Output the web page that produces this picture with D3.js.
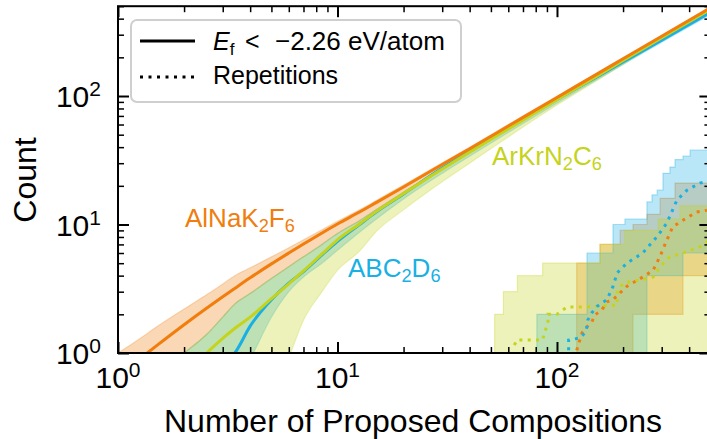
<!DOCTYPE html>
<html><head><meta charset="utf-8">
<script src="https://cdn.jsdelivr.net/npm/d3@7/dist/d3.min.js"></script>
<style>
body{margin:0;background:#fff}
svg{display:block}
text{font-family:"Liberation Sans",Arial,Helvetica,sans-serif}
</style>
</head><body>
<svg id="chart" width="707" height="439"></svg>
<script>
// ---------------- data ----------------
const seriesNames = ["AlNaK2F6", "ABC2D6", "ArKrN2C6"];
const gridX = [1, 1.36, 1.5, 2, 2.54, 3, 3.4, 4, 5, 6, 7, 8.5, 10, 12.6, 15, 20, 30, 40, 60, 100, 150, 200, 300, 500];

const orangeMean = [0.65, 1, 1.14, 1.66, 2.24, 2.74, 3.18, 3.85, 4.94, 6.0, 7.05, 8.6, 10.1, 12.5, 14.8, 19.6, 29.3, 38.9, 58.4, 97.5, 146, 195, 292, 486];
const orangeHi   = [1, 1.42, 1.6, 2.2, 2.85, 3.45, 4.0, 4.6, 5.6, 6.6, 7.6, 9.1, 10.6, 13.0, 15.4, 20.3, 30.2, 40, 60, 99.5, 149, 198, 297, 495];
const orangeLo   = [0.4, 0.6, 0.7, 1, 1.4, 1.9, 2.4, 2.9, 3.8, 4.7, 5.6, 7.0, 8.5, 10.7, 13.0, 17.8, 27.3, 37, 56.5, 94, 141, 189, 285, 474];

const blueMean = [0.3, 0.4, 0.45, 0.55, 0.7, 0.85, 1.0, 1.62, 2.6, 3.5, 4.3, 5.8, 7.4, 10.0, 12.5, 17.3, 27.5, 37.2, 56.5, 94, 139, 184, 272, 447];
const blueHi   = [0.4, 0.6, 0.7, 1, 1.4, 1.9, 2.4, 2.9, 3.8, 4.7, 5.6, 7.0, 8.5, 10.7, 13.0, 17.8, 27.6, 37.5, 57, 95, 141, 188, 279, 460];
const blueLo   = [0.1, 0.15, 0.2, 0.25, 0.3, 0.4, 0.6, 0.9, 1.9, 3.0, 3.9, 5.0, 6.3, 8.7, 11, 15.8, 25, 34, 52, 88, 132, 176, 262, 430];

const yellowMean = [0.3, 0.4, 0.45, 0.6, 1.0, 1.3, 1.55, 1.9, 2.65, 3.45, 4.35, 5.9, 7.6, 10.1, 12.6, 17.4, 27, 36.6, 55.5, 93.5, 141, 189, 284, 474];
const yellowHi   = [0.4, 0.6, 0.7, 1, 1.4, 1.9, 2.4, 2.9, 3.8, 4.7, 5.6, 7.0, 8.5, 10.7, 13.0, 17.9, 27.6, 37.5, 57, 95.5, 144, 192, 288, 481];
const yellowLo   = [0.05, 0.07, 0.08, 0.1, 0.15, 0.2, 0.25, 0.35, 0.55, 0.93, 1.8, 3.0, 4.4, 6.2, 8.8, 13, 21.5, 30, 48, 85, 130, 176, 268, 452];

// repetitions (step bands)
const orangeRepX  = [123, 157, 194, 222, 257, 295, 345, 375, 500];
const orangeRepHi = [5, 7, 9, 10, 12, 16, 21, 21, 21];
const orangeRepLo = [0.5, 0.5, 0.5, 2, 2, 2, 2, 4, 4];

const blueRepX  = [81, 137, 180, 204, 257, 271, 286, 304, 327, 345, 375, 404, 500];
const blueRepHi = [2, 6, 10, 11, 15, 17, 18.5, 25, 28, 32, 34, 38, 38];
const blueRepLo = [0.5, 0.5, 0.5, 0.5, 4, 4, 4, 4, 4, 4, 6, 6, 6];

const yellowRepX  = [52, 57, 66, 86, 157, 204, 289, 363, 500];
const yellowRepHi = [2, 3, 4, 5, 7, 9, 11, 14, 14];
const yellowRepLo = [0.5, 0.5, 0.5, 0.5, 0.5, 0.5, 0.5, 0.5, 0.5];

// repetitions (dotted mean)
const orangeDotX = [123, 127, 130, 137, 144, 149, 160, 169, 180, 208, 246, 274, 294, 317, 337, 375, 432, 482];
const orangeDotY = [1.05, 1.26, 1.43, 1.6, 1.74, 1.98, 2.16, 2.5, 2.6, 3.3, 3.9, 4.4, 5.6, 7.6, 9.6, 10.8, 12.5, 12.9];
const blueDotX = [113, 113, 127, 134, 137, 138, 144, 152, 160, 169, 180, 188, 208, 246, 285, 317, 352, 391, 448, 500];
const blueDotY = [1.05, 1.26, 1.31, 1.43, 1.6, 1.8, 2.05, 2.3, 2.45, 2.6, 3.3, 4.2, 5, 6, 8, 10.3, 15.5, 18.5, 21, 22];
const yellowDotX = [64, 65.5, 86, 88, 91, 91, 100, 111, 127, 188, 188, 200, 239, 274, 294, 327, 375, 448, 500];
const yellowDotY = [1.15, 1.26, 1.26, 1.46, 1.71, 2, 2, 2.28, 2.28, 2.36, 2.93, 3.5, 3.7, 3.9, 4.67, 5.6, 6, 6.7, 7.6];

const xMajor = [1, 10, 100];
const yMajor = [1, 10, 100];
const tickExp = ["0", "1", "2"];
const legendLabels = ["<", "\u22122.26 eV/atom", "Repetitions"];

// ---------------- drawing ----------------
const colors = ["#f07d0c", "#19b0e4", "#c5d31c"];
const svg = d3.select("#chart");
const x = d3.scaleLog().domain([1, 500]).range([118, 710.4]);
const y = d3.scaleLog().domain([1, 500]).range([353, 6.2]);

svg.append("clipPath").attr("id", "plotclip").append("rect")
  .attr("x", 118).attr("y", 6.2).attr("width", 710.4 - 118).attr("height", 353 - 6.2);
const plot = svg.append("g").attr("clip-path", "url(#plotclip)");

const main = [
  {mean: orangeMean, hi: orangeHi, lo: orangeLo},
  {mean: blueMean, hi: blueHi, lo: blueLo},
  {mean: yellowMean, hi: yellowHi, lo: yellowLo}
];
const reps = [
  {x: orangeRepX, hi: orangeRepHi, lo: orangeRepLo, dx: orangeDotX, dy: orangeDotY},
  {x: blueRepX, hi: blueRepHi, lo: blueRepLo, dx: blueDotX, dy: blueDotY},
  {x: yellowRepX, hi: yellowRepHi, lo: yellowRepLo, dx: yellowDotX, dy: yellowDotY}
];

const area = d3.area().x(d => x(d.x)).y0(d => y(d.lo)).y1(d => y(d.hi)).curve(d3.curveMonotoneX);
const line = d3.line().x(d => x(d.x)).y(d => y(d.y)).curve(d3.curveMonotoneX);
const stepArea = d3.area().x(d => x(d.x)).y0(d => y(d.lo)).y1(d => y(d.hi)).curve(d3.curveStepAfter);
const dotLine = d3.line().x(d => x(d.x)).y(d => y(d.y));

// main bands
main.forEach((s, i) => {
  const pts = gridX.map((gx, k) => ({x: gx, lo: s.lo[k], hi: s.hi[k]}));
  plot.append("path").attr("d", area(pts))
    .attr("fill", colors[i]).attr("fill-opacity", 0.3)
    .attr("stroke", colors[i]).attr("stroke-opacity", 0.25).attr("stroke-width", 1.2);
});
// repetition bands
reps.forEach((s, i) => {
  const pts = s.x.map((rx, k) => ({x: rx, lo: s.lo[k], hi: s.hi[k]}));
  plot.append("path").attr("d", stepArea(pts))
    .attr("fill", colors[i]).attr("fill-opacity", 0.3)
    .attr("stroke", colors[i]).attr("stroke-opacity", 0.35).attr("stroke-width", 1.2);
});
// main lines (blue, yellow, orange)
[1, 2, 0].forEach(i => {
  const pts = gridX.map((gx, k) => ({x: gx, y: main[i].mean[k]}));
  plot.append("path").attr("d", line(pts)).attr("fill", "none")
    .attr("stroke", colors[i]).attr("stroke-width", 3);
});
// dotted lines
[2, 0, 1].forEach(i => {
  const pts = reps[i].dx.map((dx, k) => ({x: dx, y: reps[i].dy[k]}));
  plot.append("path").attr("d", dotLine(pts)).attr("fill", "none")
    .attr("stroke", colors[i]).attr("stroke-width", 3).attr("stroke-dasharray", "3,5.3");
});

// axes ticks (inward, all four sides)
const minorOf = (majors) => majors.flatMap(m => d3.range(2, 10).map(k => m * k)).filter(v => v <= 500);
const xMinor = minorOf(xMajor), yMinor = minorOf(yMajor);
function styleAxis(g) {
  g.select(".domain").remove();
  g.selectAll(".tick line").attr("stroke", "#000");
  g.selectAll("text").remove();
}
const axes = [
  [d3.axisBottom(x), "translate(0,353)", xMajor, xMinor],
  [d3.axisTop(x), "translate(0,6.2)", xMajor, xMinor],
  [d3.axisLeft(y), "translate(118,0)", yMajor, yMinor],
  [d3.axisRight(y), "translate(710.4,0)", yMajor, yMinor]
];
axes.forEach(([ax, tr, maj, mnr]) => {
  svg.append("g").attr("transform", tr)
    .call(ax.tickValues(mnr).tickSize(-6).tickFormat(""))
    .call(styleAxis).selectAll(".tick line").attr("stroke-width", 1.5);
  svg.append("g").attr("transform", tr)
    .call(ax.tickValues(maj).tickSize(-11).tickFormat(""))
    .call(styleAxis).selectAll(".tick line").attr("stroke-width", 2);
});
// spines
svg.append("rect").attr("x", 118).attr("y", 6.2).attr("width", 710.4 - 118).attr("height", 353 - 6.2)
  .attr("fill", "none").attr("stroke", "#000").attr("stroke-width", 2);

// tick labels
function powLabel(sel, exp) {
  sel.append("tspan").text("10");
  sel.append("tspan").attr("font-size", 21).attr("dy", -11).text(exp);
}
xMajor.forEach((v, i) => {
  const t = svg.append("text").attr("x", x(v)).attr("y", 388).attr("text-anchor", "middle")
    .attr("font-size", 30).attr("fill", "#000");
  powLabel(t, tickExp[i]);
});
yMajor.forEach((v, i) => {
  const t = svg.append("text").attr("x", 101).attr("y", y(v) + 11).attr("text-anchor", "end")
    .attr("font-size", 30).attr("fill", "#000");
  powLabel(t, tickExp[i]);
});

// axis titles
svg.append("text").attr("x", 413).attr("y", 432).attr("text-anchor", "middle")
  .attr("font-size", 32).text("Number of Proposed Compositions");
svg.append("text").attr("transform", "translate(36,180) rotate(-90)").attr("text-anchor", "middle")
  .attr("font-size", 32).text("Count");

// series labels with subscripts
function chem(sel, formula) {
  const parts = formula.match(/[A-Za-z]+|\d+/g);
  let sub = false;
  parts.forEach(p => {
    const isNum = /^\d+$/.test(p);
    const ts = sel.append("tspan").text(p);
    if (isNum && !sub) { ts.attr("font-size", "0.7em").attr("dy", "0.28em"); sub = true; }
    else if (!isNum && sub) { ts.attr("dy", "-0.2em"); sub = false; }
  });
}
const labelPos = [[185, 227], [348, 277], [492, 165]];
seriesNames.forEach((nm, i) => {
  const t = svg.append("text").attr("x", labelPos[i][0]).attr("y", labelPos[i][1])
    .attr("font-size", 26).attr("fill", colors[i]);
  chem(t, nm);
});

// legend
const lg = svg.append("g");
lg.append("rect").attr("x", 131).attr("y", 20).attr("width", 330).attr("height", 82).attr("rx", 6)
  .attr("fill", "#fff").attr("fill-opacity", 0.85).attr("stroke", "#cfcfcf").attr("stroke-width", 2);
lg.append("line").attr("x1", 140).attr("x2", 195).attr("y1", 41).attr("y2", 41)
  .attr("stroke", "#000").attr("stroke-width", 3);
lg.append("line").attr("x1", 140).attr("x2", 195).attr("y1", 77).attr("y2", 77)
  .attr("stroke", "#000").attr("stroke-width", 3).attr("stroke-dasharray", "3,5.5");
const l1 = lg.append("text").attr("x", 213).attr("y", 50).attr("font-size", 25);
l1.append("tspan").attr("font-style", "italic").text("E");
l1.append("tspan").attr("font-size", 17).attr("dy", 5).text("f");
l1.append("tspan").attr("x", 245).attr("dy", -5).text(legendLabels[0]);
l1.append("tspan").attr("x", 275).attr("font-size", 26).text(legendLabels[1]);
lg.append("text").attr("x", 213).attr("y", 84).attr("font-size", 25).text(legendLabels[2]);
</script>
</body></html>
